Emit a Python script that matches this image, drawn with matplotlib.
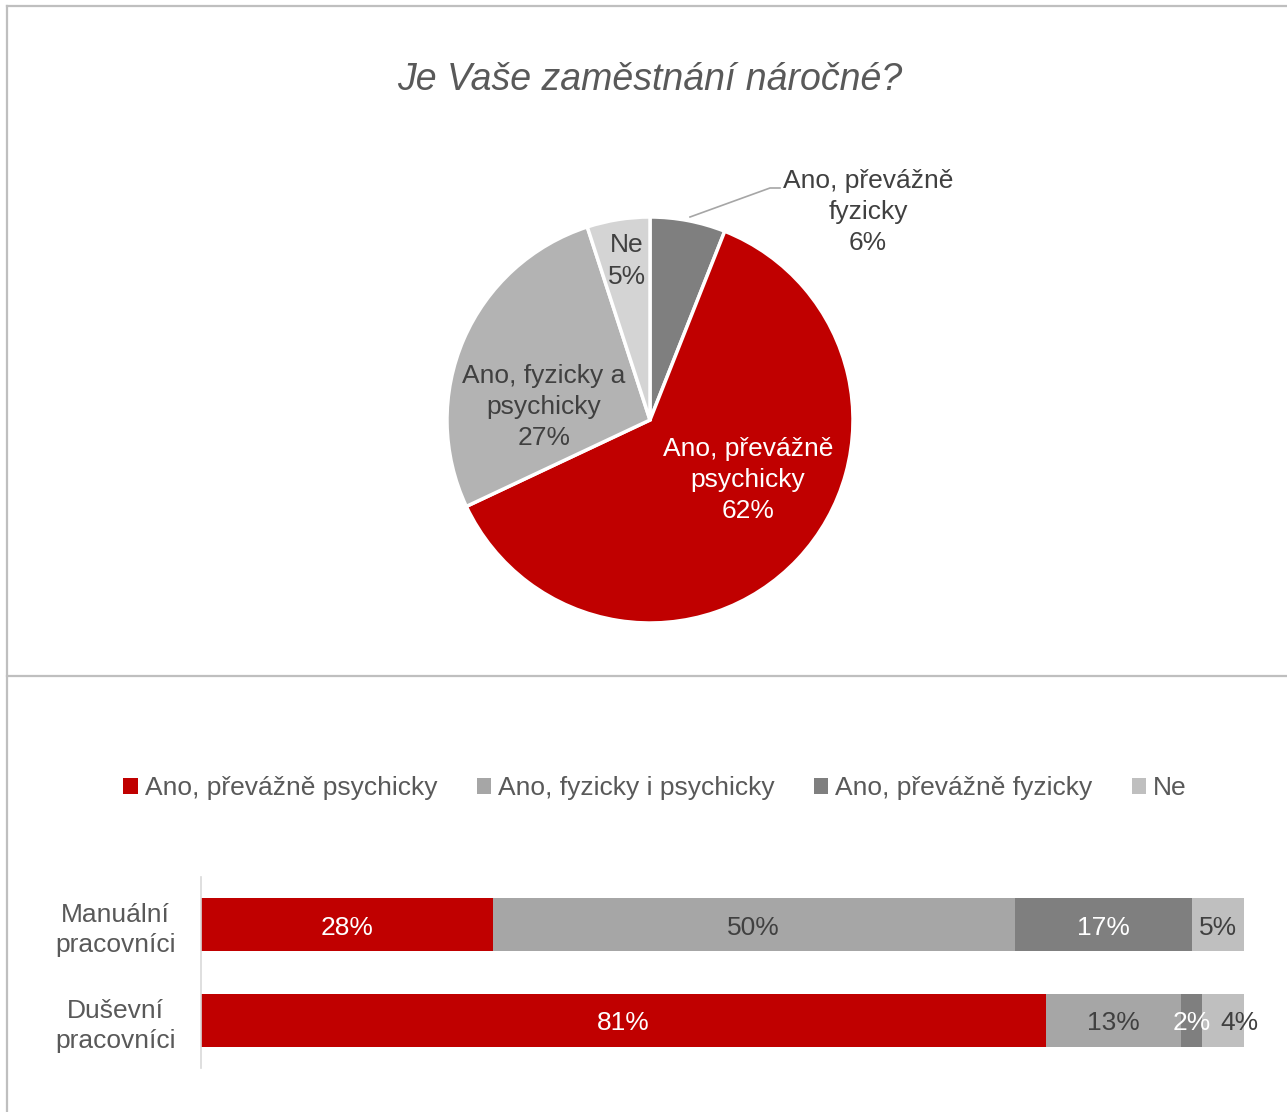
import matplotlib
matplotlib.use("Agg")
import matplotlib.pyplot as plt
from matplotlib.lines import Line2D

plt.rcParams['font.family'] = ['Liberation Sans', 'DejaVu Sans']

# pie data (clockwise from 12 o'clock)
pie_labels = ["Ano, převážně\nfyzicky", "Ano, převážně\npsychicky",
              "Ano, fyzicky a\npsychicky", "Ne"]
pie_values = [6, 62, 27, 5]
pie_colors = ["#7f7f7f", "#c00000", "#b3b3b3", "#d4d4d4"]

# bar data
groups = ["Manuální\npracovníci", "Duševní\npracovníci"]
series = ["Ano, převážně psychicky", "Ano, fyzicky i psychicky",
          "Ano, převážně fyzicky", "Ne"]
psychicky = [28, 81]
fyz_i_psych = [50, 13]
fyzicky = [17, 2]
ne = [5, 4]
bar_colors = ["#c00000", "#a6a6a6", "#7f7f7f", "#bfbfbf"]
label_colors = ["white", "#404040", "white", "#404040"]

W, H = 1287, 1112
FS = 19
fig = plt.figure(figsize=(W / 100, H / 100), dpi=100)


def fx(px):
    return px / W


def fy(py):
    return 1 - py / H


# panel borders
border = "#bfbfbf"
fig.add_artist(Line2D([fx(7), 1], [fy(6), fy(6)], color=border, lw=1.6))
fig.add_artist(Line2D([fx(7), fx(7)], [fy(6), 0], color=border, lw=1.6))
fig.add_artist(Line2D([fx(7), 1], [fy(676), fy(676)], color=border, lw=1.6))

fig.text(fx(650), fy(80), "Je Vaše zaměstnání náročné?", style="italic",
         fontsize=27, color="#595959", ha="center", va="center")

# ---- pie ----
R = 203
cx, cy = 650, 420
side = 2 * R * 1.25
ax = fig.add_axes([fx(cx - side / 2), fy(cy + side / 2), side / W, side / H])
ax.pie(pie_values, colors=pie_colors, startangle=90, counterclock=False,
       radius=1, wedgeprops=dict(edgecolor="white", linewidth=2.5))
ax.set_xlim(-1.25, 1.25)
ax.set_ylim(-1.25, 1.25)
ax.set_aspect("equal")
ax.axis("off")


def pc(px, py):
    return (px - cx) / R, -(py - cy) / R


pie_pos = [(868, 212), (748, 480), (544, 407), (627, 261)]
pie_txt = ["#404040", "white", "#404040", "#404040"]
for lab, val, pos, col in zip(pie_labels, pie_values, pie_pos, pie_txt):
    x, y = pc(*pos)
    ax.text(x, y, f"{lab}\n{val}%", ha="center", va="center", fontsize=FS,
            color=col, linespacing=1.38)

# leader line for the small slice
lx, ly = zip(pc(690, 217), pc(770, 188), pc(780, 188))
ax.plot(lx, ly, color="#a6a6a6", lw=1.2, clip_on=False)

# ---- stacked bars ----
bx0, bx1, by0, by1 = 201, 1244, 877, 1068
bax = fig.add_axes([fx(bx0), fy(by1), (bx1 - bx0) / W, (by1 - by0) / H])
ypos = [1, 0]
left = [0, 0]
handles = []
for name, vals, col, tcol in zip(series, [psychicky, fyz_i_psych, fyzicky, ne],
                                 bar_colors, label_colors):
    bars = bax.barh(ypos, vals, left=left, height=0.555, color=col, label=name)
    anns = bax.bar_label(bars, labels=[f"{v}%" for v in vals],
                         label_type="center", color=tcol, fontsize=FS)
    for a in anns:
        a.set_position((0, -2))
    if name == "Ne":
        anns[1].set_position((12, -2))
    handles.append(bars)
    left = [a + b for a, b in zip(left, vals)]

bax.set_xlim(0, 100)
bax.set_ylim(-0.5, 1.5)
bax.set_yticks(ypos)
bax.set_yticklabels(groups, fontsize=FS, color="#595959", linespacing=1.32)
for t in bax.get_yticklabels():
    t.set_multialignment("center")
bax.tick_params(axis="y", length=0, pad=18)
bax.set_xticks([])
for s in ["top", "right", "bottom"]:
    bax.spines[s].set_visible(False)
bax.spines["left"].set_color("#d9d9d9")
bax.spines["left"].set_linewidth(1.2)

fig.legend(handles=handles, labels=series, loc="center", ncol=4,
           bbox_to_anchor=(fx(655), fy(788)), frameon=False, fontsize=FS,
           handlelength=0.55, handleheight=0.55, handletextpad=0.25,
           columnspacing=1.5, labelcolor="#595959")

fig.savefig("out.png", dpi=100)
